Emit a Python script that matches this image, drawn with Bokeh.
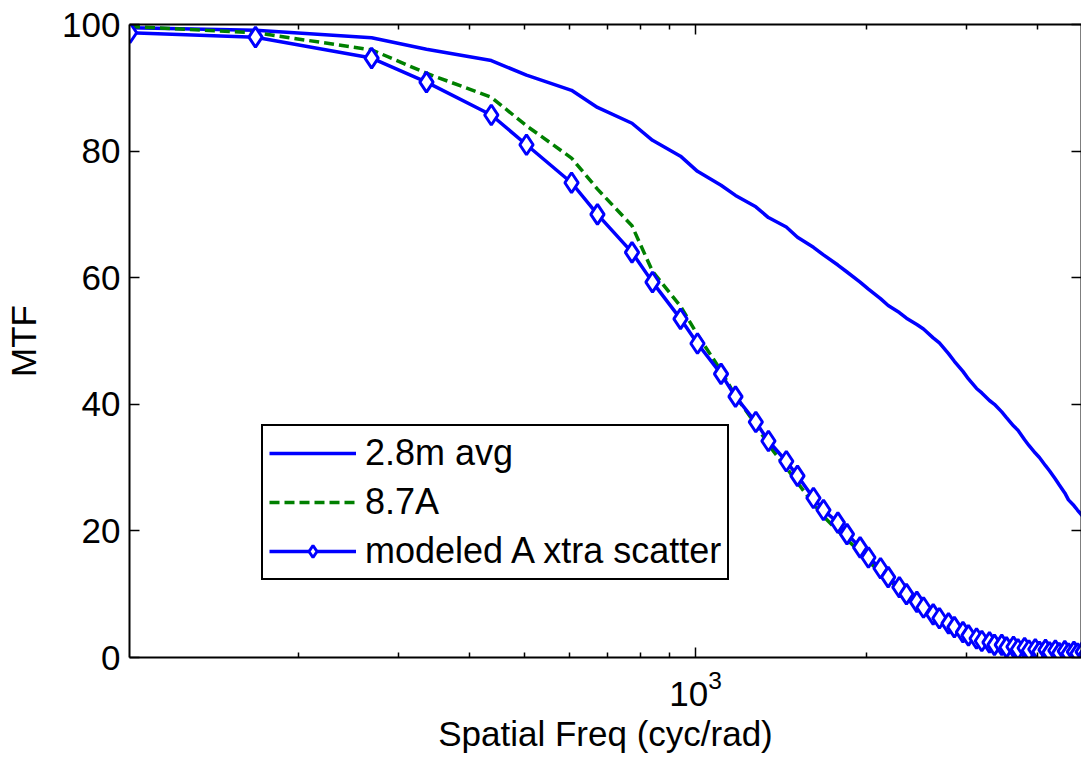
from bokeh.plotting import figure
from bokeh.models import FixedTicker, LinearAxis, Legend, LegendItem, Range1d
from bokeh.embed import file_html
from bokeh.resources import INLINE

# spatial frequency grid (cyc/rad)
freq = [101, 168, 269, 336, 437, 504, 605, 672, 773, 840, 941, 1008, 1109, 1176,
        1277, 1344, 1445, 1512, 1613, 1680, 1781, 1848, 1949, 2016, 2117, 2184,
        2285, 2352, 2453, 2520, 2621, 2688, 2789, 2856, 2957, 3024, 3125, 3192,
        3293, 3360, 3461, 3528, 3629, 3696, 3797, 3864, 3965, 4032, 4133, 4200,
        4301, 4368, 4469, 4536, 4637, 4704, 4805, 4872, 4973]

mtf_28m_avg = [99.5, 99.1, 97.9, 96.1, 94.3, 92.0, 89.6, 86.9, 84.4, 81.7, 79.2,
               76.8, 74.6, 73.0, 71.2, 69.5, 68.0, 66.4, 64.8, 63.6, 62.0, 60.9,
               59.3, 58.2, 56.7, 55.6, 54.5, 53.6, 52.6, 51.9, 50.5, 49.7, 48.0,
               46.8, 45.2, 44.0, 42.5, 41.8, 40.6, 40.0, 38.8, 37.9, 36.6, 35.9,
               34.4, 33.5, 32.3, 31.6, 30.3, 29.5, 28.2, 27.3, 26.0, 24.9, 24.0,
               23.3, 22.3, 21.4, 20.5]

mtf_87a = [99.7, 98.7, 96.0, 92.3, 88.5, 84.0, 78.9, 74.0, 68.2, 61.0, 55.5,
           51.0, 45.3, 41.3, 36.8, 33.6, 30.0, 27.6, 24.3, 22.3, 20.0, 18.6,
           16.7, 15.1, 13.6, 12.3, 10.9, 9.9, 8.6, 7.8, 6.7, 6.1, 5.3, 4.7, 3.9,
           3.4, 2.9, 2.6, 2.3, 2.0, 1.8, 1.6, 1.5, 1.3, 1.2, 1.1, 1.0, 0.9, 0.9,
           0.8, 0.8, 0.7, 0.7, 0.6, 0.6, 0.6, 0.5, 0.5, 0.5]

mtf_modeled = [98.7, 98.0, 94.7, 90.9, 85.7, 81.0, 75.0, 70.0, 64.0, 59.3, 53.5,
               49.6, 44.8, 41.2, 37.2, 34.2, 31.0, 28.7, 25.2, 23.3, 21.3, 19.5,
               17.4, 15.8, 14.1, 12.7, 11.1, 10.0, 8.8, 7.9, 6.8, 6.2, 5.4, 4.8,
               4.0, 3.5, 3.0, 2.6, 2.4, 2.0, 2.0, 1.6, 1.7, 1.3, 1.5, 1.1, 1.3,
               0.9, 1.2, 0.8, 1.1, 0.7, 1.0, 0.6, 0.9, 0.6, 0.9, 0.5, 0.8]

x_major_ticks = [1000]
x_minor_ticks = [200, 300, 400, 500, 600, 700, 800, 900, 2000, 3000, 4000]
y_ticks = [0, 20, 40, 60, 80, 100]

FONT = "Liberation Sans"
FS = "35px"
BLUE = "#0000ff"
GREEN = "#008000"

p = figure(width=1081, height=755, x_axis_type="log",
           x_range=Range1d(100.8, 4782), y_range=Range1d(0, 100),
           output_backend="svg", toolbar_location=None,
           min_border_left=129, min_border_top=24, min_border_right=0,
           min_border_bottom=95)
p.outline_line_color = None
p.xgrid.visible = False
p.ygrid.visible = False
p.background_fill_color = "white"
p.border_fill_color = "white"


def style_axis(ax, labels=True):
    ax.axis_line_width = 2
    ax.axis_line_color = "black"
    ax.major_tick_line_width = 1.5
    ax.minor_tick_line_width = 1.5
    ax.major_tick_in = 10
    ax.major_tick_out = 0
    ax.minor_tick_in = 5
    ax.minor_tick_out = 0
    ax.major_label_text_font = FONT
    ax.major_label_text_color = "black"
    ax.axis_label_text_font = FONT
    ax.axis_label_text_font_size = FS
    ax.axis_label_text_font_style = "normal"
    ax.axis_label_text_color = "black"
    if labels:
        ax.major_label_text_font_size = FS
        ax.major_label_standoff = 9
    else:
        ax.major_label_text_font_size = "1px"
        ax.major_label_text_alpha = 0
        ax.major_label_standoff = 0


xax = p.xaxis[0]
xax.ticker = FixedTicker(ticks=x_major_ticks, minor_ticks=x_minor_ticks)
style_axis(xax)
xax.major_label_standoff = 12
xax.axis_label = "Spatial Freq (cyc/rad)"
xax.axis_label_standoff = 5

yax = p.yaxis[0]
yax.ticker = FixedTicker(ticks=y_ticks)
style_axis(yax)
yax.minor_tick_line_color = None
yax.axis_label = "MTF"
yax.axis_label_standoff = 16

# top box edge: plain axis mapped through the plot's log x scale
top_ax = LinearAxis(ticker=FixedTicker(ticks=x_major_ticks, minor_ticks=x_minor_ticks))
style_axis(top_ax, labels=False)
p.add_layout(top_ax, "above")

right_ax = LinearAxis(ticker=FixedTicker(ticks=y_ticks))
style_axis(right_ax, labels=False)
right_ax.minor_tick_line_color = None
p.add_layout(right_ax, "right")

r_avg = p.line(freq, mtf_28m_avg, line_color=BLUE, line_width=3.5)
r_87a = p.line(freq, mtf_87a, line_color=GREEN, line_width=3.5, line_dash="10 5")
r_mod_line = p.line(freq, mtf_modeled, line_color=BLUE, line_width=3.5)
r_mod_pts = p.scatter(freq, mtf_modeled, marker="diamond", size=20,
                      line_color=BLUE, line_width=3, fill_color="white")

legend = Legend(items=[
    LegendItem(label="2.8m avg", renderers=[r_avg]),
    LegendItem(label="8.7A", renderers=[r_87a]),
    LegendItem(label="modeled A xtra scatter", renderers=[r_mod_line, r_mod_pts]),
], location=(132, 77))
legend.label_text_font = FONT
legend.label_text_font_size = "36px"
legend.label_text_color = "black"
legend.glyph_width = 87
legend.glyph_height = 30
legend.label_standoff = 9
legend.padding = 6
legend.spacing = 7
legend.margin = 0
legend.border_line_color = "black"
legend.border_line_alpha = 1
legend.border_line_width = 2
legend.background_fill_color = "white"
legend.background_fill_alpha = 1
p.add_layout(legend, "center")

open("out.html", "w").write(file_html(p, INLINE))
